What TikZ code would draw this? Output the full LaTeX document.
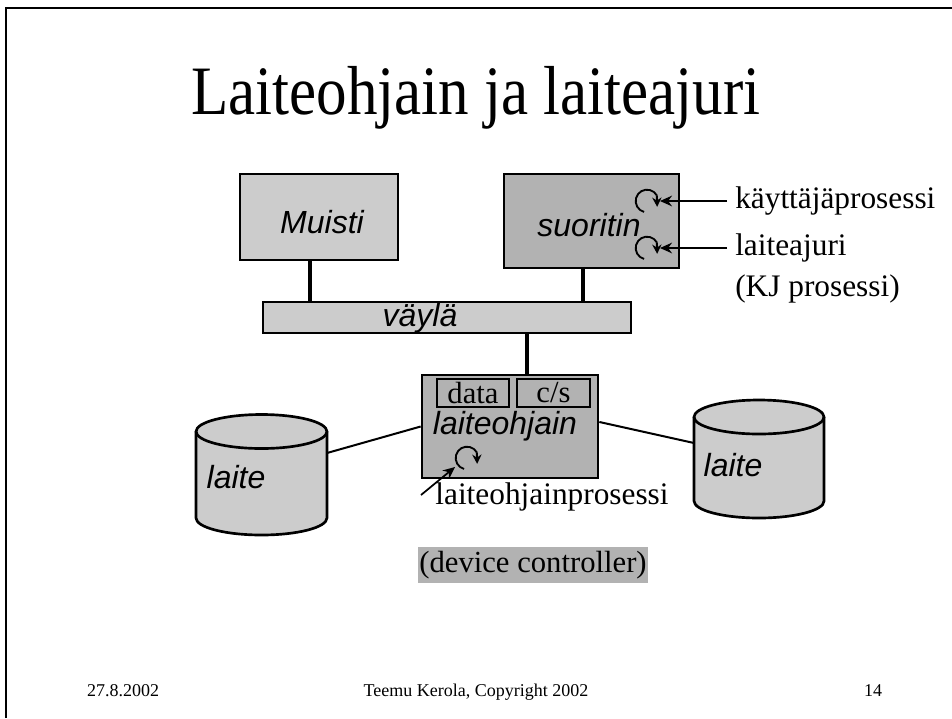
\documentclass[tikz,border=0pt]{standalone}
\usepackage{fontspec}
\setmainfont{Liberation Serif}
\setsansfont{Liberation Sans}
\newfontfamily\titlefont[FakeStretch=0.88]{Liberation Serif}
\usetikzlibrary{arrows.meta}
\definecolor{lgray}{HTML}{CCCCCC}
\definecolor{dgray}{HTML}{B2B2B2}
\begin{document}
\begin{tikzpicture}[x=0.75pt,y=-0.75pt,
  box/.style={draw,line width=2pt,inner sep=0pt},
  smallbox/.style={draw,line width=0.8pt,fill=dgray,inner sep=0pt,minimum height=21pt,font=\fontsize{23}{24}\selectfont},
  sanst/.style={font=\sffamily\itshape\fontsize{24}{28}\selectfont,inner sep=0pt},
  lbl/.style={font=\fontsize{23.5}{26}\selectfont,inner sep=0pt},
  foot/.style={font=\fontsize{13.5}{15}\selectfont,inner sep=0pt,anchor=base},
  bar/.style={line width=3.6pt},
  cyl/.style={line width=2pt},
  thinline/.style={line width=1.5pt},
  arr/.style={line width=1.3pt,-{Stealth[length=9pt,width=8pt]}},
  ring/.style={line width=1.4pt},
  ringtip/.style={line width=1.4pt,-{Stealth[length=7pt,width=7pt]}}]
\useasboundingbox (0,0) rectangle (952,718);
% frame
\draw[line width=1.6pt] (6,718) -- (6,8) -- (952,8);
% title
\node[font=\titlefont\fontsize{52}{56}\selectfont,inner sep=0pt] (title) at (476,98) {Laiteohjain ja laiteajuri};
% memory
\node[box,fill=lgray,minimum width=118.5pt,minimum height=64.5pt] (muisti) at (319,217) {};
\node[sanst] (muistit) at (322,222) {Muisti};
% processor
\node[box,fill=dgray,minimum width=131.25pt,minimum height=70.5pt] (suor) at (591.5,221) {};
\node[sanst] (suort) at (589,225) {suoritin};
% bus
\node[draw,line width=1.2pt,fill=lgray,inner sep=0pt,minimum width=276pt,minimum height=23.25pt] (bus) at (447,317.5) {};
\node[sanst] (bust) at (420,318) {väylä};
% device controller
\node[box,fill=dgray,minimum width=132pt,minimum height=77.25pt] (lo) at (510,426.5) {};
\node[smallbox,minimum width=54pt] (data) at (473,393) {data};
\node[smallbox,minimum width=54.75pt] (cs) at (553.5,393) {c/s};
\node[sanst] (lot) at (505,426) {laiteohjain};
% bus connectors
\draw[bar] ([xshift=-6.75pt]muisti.south) -- ([xshift=-6.75pt]muisti.south |- bus.north);
\draw[bar] ([xshift=-6.4pt]suor.south) -- ([xshift=-6.4pt]suor.south |- bus.north);
\draw[bar] ([xshift=12.75pt]lo.north |- bus.south) -- ([xshift=12.75pt]lo.north);
% process circles
\coordinate (c1) at (647,201);
\coordinate (c2) at (647,248);
\coordinate (c3) at (467,458);
\foreach \c in {c1,c2,c3}{
  \draw[ring] ([shift={(-105:8.5pt)}]\c) arc[start angle=-105,end angle=-330,radius=8.5pt];
  \draw[ringtip] ([shift={(30:8.5pt)}]\c) -- ([shift={(-30:8.8pt)}]\c);
}
% labels on the right
\coordinate (c1e) at (660,201);
\coordinate (c2e) at (660,248);
\node[lbl,anchor=west,inner xsep=6pt] (k1) at (727,201) {käyttäjäprosessi};
\node[lbl,anchor=west,inner xsep=6pt] (k2) at (727,248) {laiteajuri};
\node[lbl,anchor=west] (k3) at (735,289) {(KJ prosessi)};
\draw[arr] (k1.west) -- (c1e);
\draw[arr] (k2.west) -- (c2e);
% controller process label
\node[lbl] (lpt) at (552,497) {laiteohjainprosessi};
\coordinate (lpa) at (421,495);
\coordinate (lpb) at (455,467);
\draw[arr] (lpa) -- (lpb);
% device controller caption
\node[fill=dgray,inner sep=0pt,minimum width=172.5pt,minimum height=27pt,font=\fontsize{23}{26}\selectfont] (dc) at (533,565) {(device controller)};
% left cylinder
\path[fill=lgray] (196,431.5) -- (196,518) arc[start angle=180,end angle=360,x radius=49.1pt,y radius=12.75pt] -- (327,431.5) arc[start angle=0,end angle=180,x radius=49.1pt,y radius=12.75pt] -- cycle;
\draw[cyl] (196,431.5) -- (196,518) arc[start angle=180,end angle=360,x radius=49.1pt,y radius=12.75pt] -- (327,431.5);
\draw[cyl] (261.5,431.5) ellipse[x radius=49.1pt,y radius=12.75pt];
\node[sanst] (l1t) at (236,477) {laite};
% right cylinder
\path[fill=lgray] (694,417) -- (694,501) arc[start angle=180,end angle=360,x radius=48.75pt,y radius=12.75pt] -- (824,417) arc[start angle=0,end angle=180,x radius=48.75pt,y radius=12.75pt] -- cycle;
\draw[cyl] (694,417) -- (694,501) arc[start angle=180,end angle=360,x radius=48.75pt,y radius=12.75pt] -- (824,417);
\draw[cyl] (759,417) ellipse[x radius=48.75pt,y radius=12.75pt];
\node[sanst] (l2t) at (733,465) {laite};
% connectors to devices
\coordinate (cyl1r) at (327,453);
\coordinate (cyl2l) at (694,443);
\draw[thinline] (cyl1r) -- (lo.west);
\draw[thinline] ([yshift=3.4pt]lo.east) -- (cyl2l);
% footer
\node[foot] (date) at (123,696) {27.8.2002};
\node[foot] (copy) at (476,696) {Teemu Kerola, Copyright 2002};
\node[foot] (page) at (873,696) {14};
\end{tikzpicture}
\end{document}
